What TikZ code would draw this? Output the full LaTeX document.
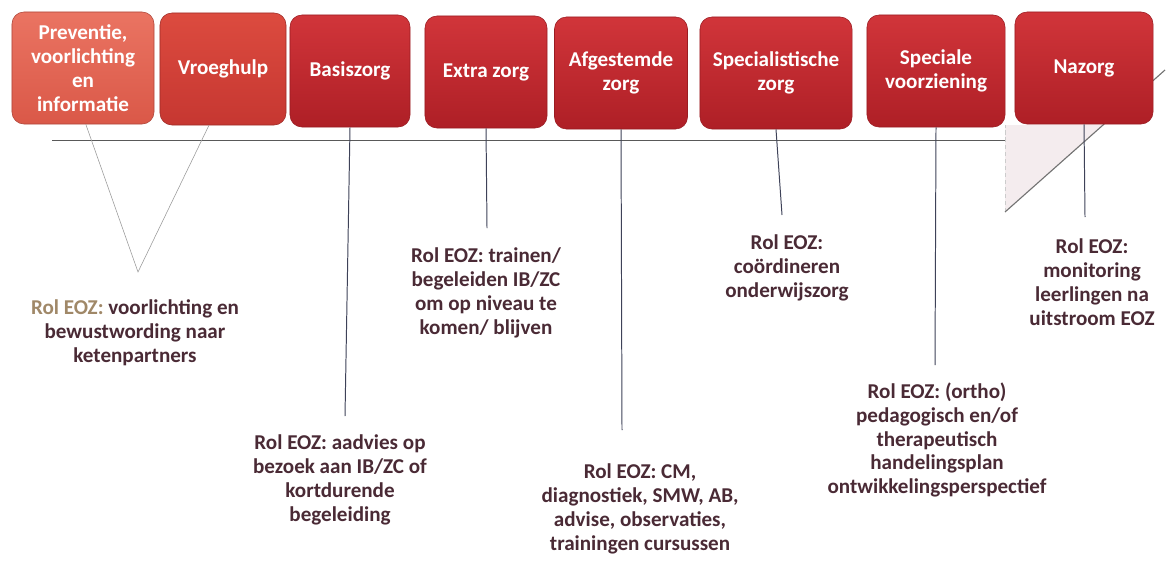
\documentclass[tikz,border=0pt]{standalone}
\usepackage{fontspec}
\setmainfont{Carlito}
\usetikzlibrary{positioning}

\definecolor{boxlighttop}{HTML}{EA7462}
\definecolor{boxlightbot}{HTML}{DA5848}
\definecolor{boxmidtop}{HTML}{DC4B3F}
\definecolor{boxmidbot}{HTML}{C63731}
\definecolor{boxtop}{HTML}{D1353A}
\definecolor{boxbot}{HTML}{AE1F26}
\definecolor{boxedge}{HTML}{9A1C22}
\definecolor{roltext}{HTML}{4A2A35}
\definecolor{roltan}{HTML}{A08868}
\definecolor{linegrey}{HTML}{3E4258}
\definecolor{pijlfill}{HTML}{F4ECEE}

\begin{document}
\begin{tikzpicture}[
            x = 0.025cm, y = -0.025cm, % one unit per pixel
            font = \fontsize{15}{17}\selectfont\bfseries,
            semithick % line style
        ]

        \tikzstyle{fase}=[
            rounded corners = 3mm,
            draw = boxedge,
            thin,
            top color = boxtop,
            bottom color = boxbot,
            text = white,
            align = center,
            minimum height = 2.8cm,
            inner sep = 1pt
        ]
        \tikzstyle{rol}=[
            text = roltext,
            align = center,
            inner sep = 1pt
        ]
        \tikzstyle{lijn}=[
            draw = linegrey,
            line width = 0.7pt
        ]

        \useasboundingbox (0,0) rectangle (1168,579);

        % arrow head behind the last phase
        \fill[pijlfill] (1005,212) -- (1005,125) -- (1103,125) -- cycle;
        \draw[gray!40, densely dashed, thin] (1005,212) -- (1005,125);
        \draw[gray!90!black, line width=0.8pt] (1005,212) -- (1165,70);

        % time line
        \coordinate (tl) at (52,140);
        \coordinate (tr) at (1005,140);
        \draw[gray!70!black, line width=0.6pt] (tl) -- (tr);

        \node[fase, minimum width=3.55cm, top color=boxlighttop, bottom color=boxlightbot, draw=boxlightbot!80!black] (b1) at (83,68) {Preventie,\\voorlichting\\en\\informatie};
        \node[fase, minimum width=3.15cm, top color=boxmidtop, bottom color=boxmidbot, draw=boxmidbot!80!black] (b2) at (223,69) {Vroeghulp};
        \node[fase, minimum width=3.0cm] (b3) at (350,71) {Basiszorg};
        \node[fase, minimum width=3.05cm] (b4) at (486,72) {Extra zorg};
        \node[fase, minimum width=3.325cm] (b5) at (621,73) {Afgestemde\\zorg};
        \node[fase, minimum width=3.8cm] (b6) at (776,73) {Specialistische\\zorg};
        \node[fase, minimum width=3.45cm] (b7) at (936,71) {Speciale\\voorziening};
        \node[fase, minimum width=3.45cm] (b8) at (1084,68) {Nazorg};

        \node[rol] (r1) at (135,333) {{\color{roltan}Rol EOZ:} voorlichting en\\bewustwording naar\\ketenpartners};
        \node[rol] (r3) at (340,480) {Rol EOZ: aadvies op\\bezoek aan IB/ZC of\\kortdurende\\begeleiding};
        \node[rol] (r4) at (486,293) {Rol EOZ: trainen/\\begeleiden IB/ZC\\om op niveau te\\komen/ blijven};
        \node[rol] (r5) at (640,509) {Rol EOZ: CM,\\diagnostiek, SMW, AB,\\advise, observaties,\\trainingen cursussen};
        \node[rol] (r6) at (787,268) {Rol EOZ:\\coördineren\\onderwijszorg};
        \node[rol] (r7) at (937,440) {Rol EOZ: (ortho)\\pedagogisch en/of\\therapeutisch\\handelingsplan\\ontwikkelingsperspectief};
        \node[rol] (r8) at (1092,282) {Rol EOZ:\\monitoring\\leerlingen na\\uitstroom EOZ};

        % line ends
        \coordinate (v1) at (138,272);
        \coordinate (e3) at (345,416);
        \coordinate (e4) at (487,228);
        \coordinate (e5) at (622,430);
        \coordinate (e6) at (782,215);
        \coordinate (e7) at (935,365);
        \coordinate (e8) at (1085,217);

        \draw[gray!80, thin] ([xshift=2]b1.south) -- (v1) -- ([xshift=-10]b2.south);
        \draw[lijn] (b3.south) -- (e3);
        \draw[lijn] (b4.south) -- (e4);
        \draw[lijn] (b5.south) -- (e5);
        \draw[lijn] (b6.south) -- (e6);
        \draw[lijn] (b7.south) -- (e7);
        \draw[lijn] (b8.south) -- (e8);

  \end{tikzpicture}
\end{document}
